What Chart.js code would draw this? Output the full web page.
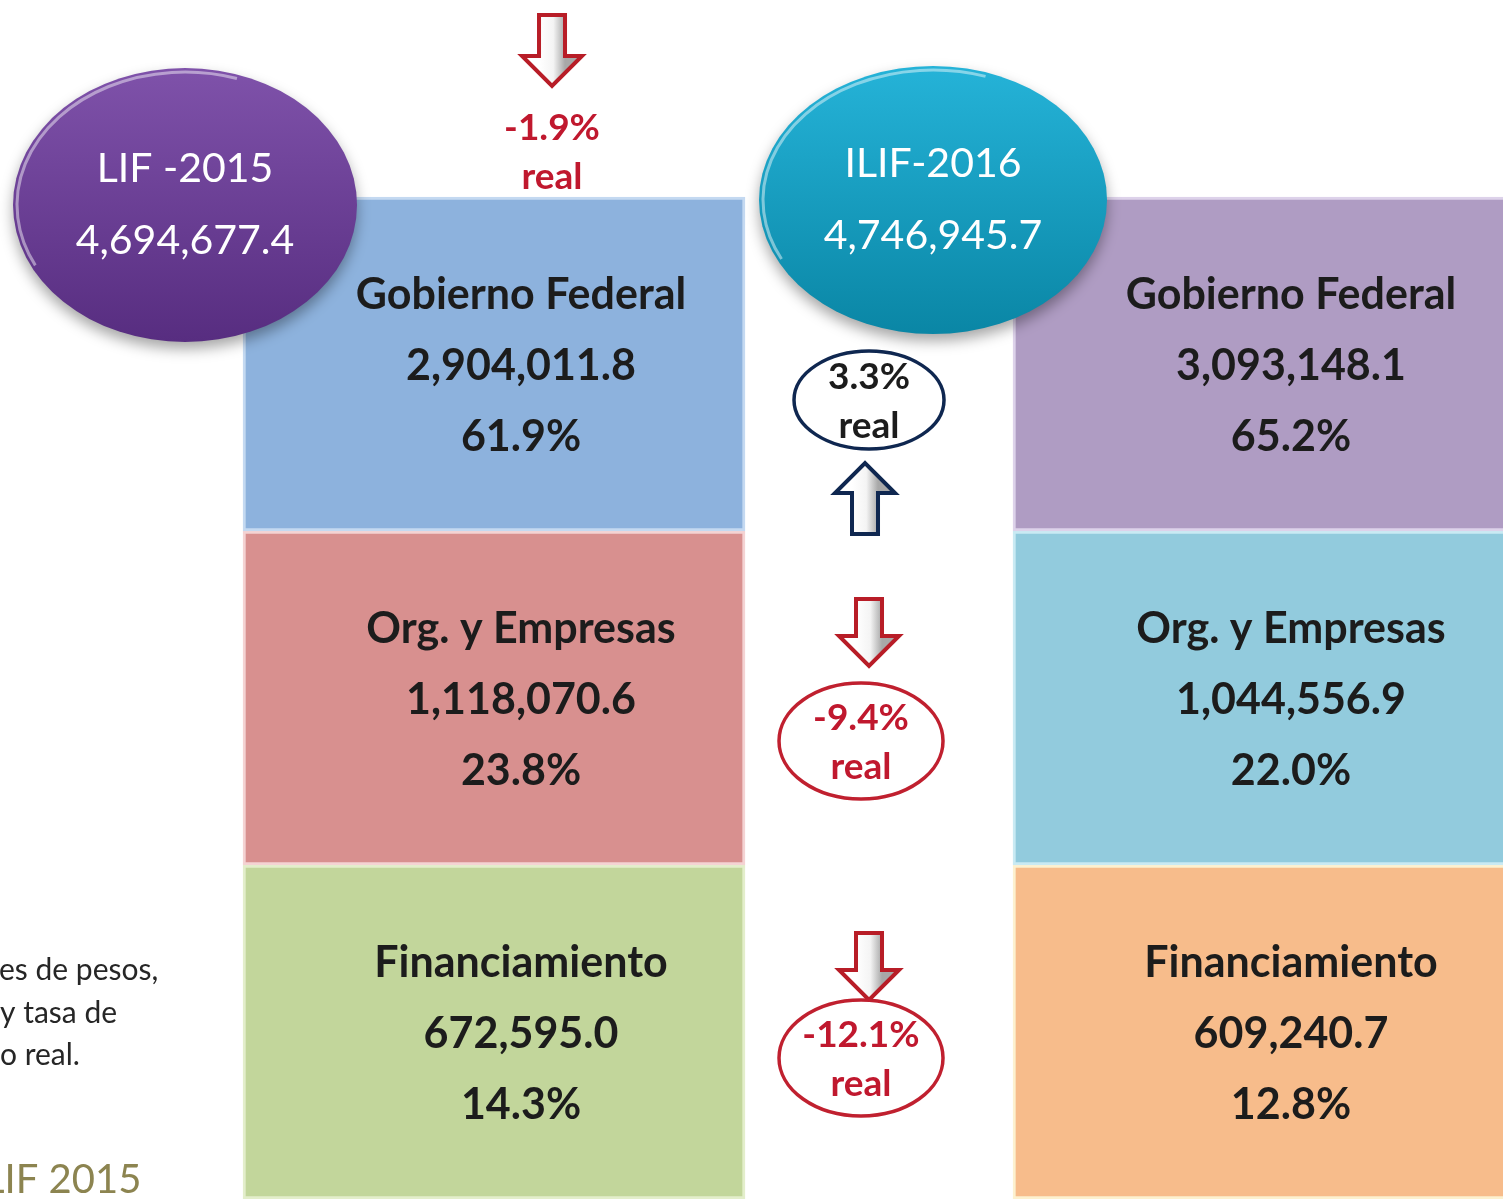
<!DOCTYPE html>
<html>
<head>
<meta charset="utf-8">
<script src="https://cdn.jsdelivr.net/npm/chart.js@4.4.0/dist/chart.umd.min.js"></script>
<style>
  html, body { margin: 0; padding: 0; background: #fff; overflow: hidden; }
  #wrap { width: 1503px; height: 1199px; position: relative; }
</style>
</head>
<body>
<div id="wrap"><canvas id="lifChart"></canvas></div>
<script>
// Ley de Ingresos: 2015 vs iniciativa 2016 (millones de pesos)
const years = ["LIF -2015", "ILIF-2016"];
const totals = [4694677.4, 4746945.7];
const categories = ["Gobierno Federal", "Org. y Empresas", "Financiamiento"];
const values2015 = [2904011.8, 1118070.6, 672595.0];
const values2016 = [3093148.1, 1044556.9, 609240.7];
const shares2015 = [61.9, 23.8, 14.3];
const shares2016 = [65.2, 22.0, 12.8];
const totalRealChange = -1.9;
const categoryRealChange = [3.3, -9.4, -12.1];
// every box is drawn the same size in the original graphic
const boxUnits = [1, 1, 1];

const colors2015 = ["#8db2dd", "#d8908f", "#c2d69b"];
const colors2016 = ["#af9cc3", "#92cbdd", "#f7bc8b"];
const edges2015 = ["#c4d9f1", "#f4d3d3", "#e3eecb"];
const edges2016 = ["#ddd2ea", "#c9eaf3", "#fdf1cf"];

function fmt(v) {
  return v.toLocaleString("en-US", { minimumFractionDigits: 1, maximumFractionDigits: 1 });
}
function pct(v) {
  return v.toFixed(1) + "%";
}

function drawArrow(ctx, cx, yStart, yEnd, color) {
  // arrow pointing from yStart toward yEnd
  const sw = 13, hw = 30, headLen = 30;
  const dir = yEnd > yStart ? 1 : -1;
  const yh = yEnd - dir * headLen;
  ctx.save();
  ctx.beginPath();
  ctx.moveTo(cx - sw, yStart);
  ctx.lineTo(cx + sw, yStart);
  ctx.lineTo(cx + sw, yh);
  ctx.lineTo(cx + hw, yh);
  ctx.lineTo(cx, yEnd);
  ctx.lineTo(cx - hw, yh);
  ctx.lineTo(cx - sw, yh);
  ctx.closePath();
  const g = ctx.createLinearGradient(cx - sw, 0, cx + sw, 0);
  g.addColorStop(0, "#ffffff");
  g.addColorStop(0.55, "#f4f4f4");
  g.addColorStop(1, "#a8a8a8");
  ctx.fillStyle = g;
  ctx.fill();
  ctx.lineWidth = 4;
  ctx.lineJoin = "miter";
  ctx.strokeStyle = color;
  ctx.stroke();
  ctx.restore();
}

function drawBubble(ctx, cx, cy, rx, ry, top, bottom, title, value) {
  ctx.save();
  ctx.shadowColor = "rgba(0,0,0,0.35)";
  ctx.shadowBlur = 14;
  ctx.shadowOffsetY = 7;
  ctx.beginPath();
  ctx.ellipse(cx, cy, rx, ry, 0, 0, Math.PI * 2);
  const g = ctx.createLinearGradient(0, cy - ry, 0, cy + ry);
  g.addColorStop(0, top);
  g.addColorStop(1, bottom);
  ctx.fillStyle = g;
  ctx.fill();
  ctx.restore();
  ctx.save();
  ctx.beginPath();
  ctx.ellipse(cx, cy, rx - 4, ry - 4, 0, Math.PI * 0.85, Math.PI * 1.6);
  ctx.strokeStyle = "rgba(255,255,255,0.45)";
  ctx.lineWidth = 3;
  ctx.stroke();
  ctx.fillStyle = "#ffffff";
  ctx.font = "41px Lato";
  ctx.textAlign = "center";
  ctx.textBaseline = "middle";
  ctx.fillText(title, cx, cy - 36);
  ctx.fillText(value, cx, cy + 36);
  ctx.restore();
}

function drawChange(ctx, cx, cy, rx, ry, text, stroke, textColor) {
  ctx.save();
  ctx.beginPath();
  ctx.ellipse(cx, cy, rx, ry, 0, 0, Math.PI * 2);
  ctx.fillStyle = "#ffffff";
  ctx.fill();
  ctx.lineWidth = 3.5;
  ctx.strokeStyle = stroke;
  ctx.stroke();
  ctx.fillStyle = textColor;
  ctx.font = "bold 37px Lato";
  ctx.textAlign = "center";
  ctx.textBaseline = "middle";
  ctx.fillText(text, cx, cy - 23);
  ctx.fillText("real", cx, cy + 26);
  ctx.restore();
}

const overlayPlugin = {
  id: "overlay",
  afterDatasetsDraw(chart) {
    const ctx = chart.ctx;
    const values = [values2015, values2016];
    const shares = [shares2015, shares2016];

    // labels inside the boxes
    ctx.save();
    ctx.fillStyle = "#1c1c1c";
    ctx.font = "bold 43px Lato";
    ctx.textAlign = "center";
    ctx.textBaseline = "middle";
    categories.forEach((cat, i) => {
      const meta = chart.getDatasetMeta(i);
      meta.data.forEach((bar, j) => {
        const cx = bar.x + 27;
        const cy = (bar.y + bar.base) / 2 + 2;
        ctx.fillText(cat, cx, cy - 71);
        ctx.fillText(fmt(values[j][i]), cx, cy);
        ctx.fillText(pct(shares[j][i]), cx, cy + 71);
      });
    });
    ctx.restore();

    const left = chart.getDatasetMeta(0).data[0];
    const right = chart.getDatasetMeta(0).data[1];
    const leftTop = Math.min(left.y, left.base);
    const rightTop = Math.min(right.y, right.base);
    const gapMid = (left.x + left.width / 2 + right.x - right.width / 2) / 2;

    // total bubbles
    drawBubble(ctx, left.x - 309, leftTop + 8, 172, 137, "#7f52aa", "#572d80", years[0], fmt(totals[0]));
    drawBubble(ctx, gapMid + 54, rightTop + 3, 174, 134, "#25b3d8", "#0a86a5", years[1], fmt(totals[1]));

    // total real change
    const tx = left.x + 58;
    drawArrow(ctx, tx, 15, 86, "#b81d27");
    ctx.save();
    ctx.fillStyle = "#c0182e";
    ctx.font = "bold 37px Lato";
    ctx.textAlign = "center";
    ctx.textBaseline = "middle";
    ctx.fillText(pct(totalRealChange), tx, 128);
    ctx.fillText("real", tx, 177);
    ctx.restore();

    // per-category real change
    categoryRealChange.forEach((chg, i) => {
      const bar = chart.getDatasetMeta(i).data[0];
      const cy = (bar.y + bar.base) / 2;
      if (chg >= 0) {
        drawChange(ctx, gapMid - 10, cy + 36, 75, 49, pct(chg), "#0f2750", "#1c1c1c");
        drawArrow(ctx, gapMid - 14, cy + 170, cy + 99, "#0f2750");
      } else {
        const off = i === 1 ? 43 : 26;
        drawArrow(ctx, gapMid - 10, cy - 99, cy - 32, "#b81d27");
        drawChange(ctx, gapMid - 18, cy + off, 82, 58, pct(chg), "#c0202f", "#c0182e");
      }
    });

    // side note, cut by the page edge
    ctx.save();
    ctx.fillStyle = "#262626";
    ctx.font = "30px Lato";
    ctx.textAlign = "left";
    ctx.textBaseline = "middle";
    ctx.fillText("es de pesos,", -1, 970);
    ctx.fillText("y tasa de", 0, 1013);
    ctx.fillText("o real.", 0, 1055);
    ctx.fillStyle = "#8c8450";
    ctx.font = "40px Lato";
    ctx.fillText("LIF 2015", -16, 1180);
    ctx.restore();
  }
};

const datasets = categories.map((cat, i) => ({
  label: cat,
  data: years.map((y, j) => ({ x: j, y: boxUnits[i] })),
  backgroundColor: [colors2015[i], colors2016[i]],
  borderColor: [edges2015[i], edges2016[i]],
  borderWidth: 3,
  borderSkipped: false,
  barThickness: 502
}));

new Chart(document.getElementById("lifChart"), {
  type: "bar",
  data: { datasets },
  options: {
    responsive: true,
    maintainAspectRatio: false,
    animation: false,
    layout: { padding: 0 },
    plugins: { legend: { display: false }, tooltip: { enabled: false } },
    scales: {
      x: { type: "linear", stacked: true, display: false, offset: false, min: -0.6416, max: 1.3104 },
      y: { stacked: true, display: false, reverse: true, min: -0.5898, max: 3.0 }
    }
  },
  plugins: [overlayPlugin]
});
</script>
</body>
</html>
